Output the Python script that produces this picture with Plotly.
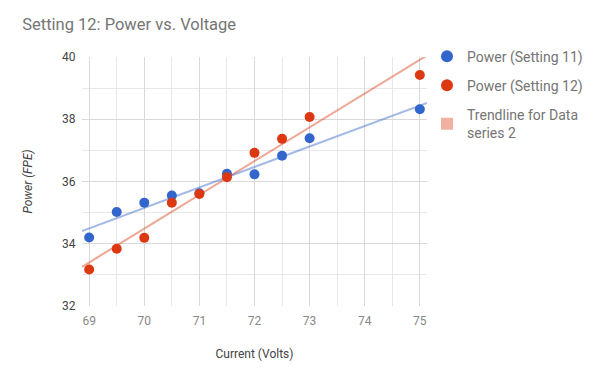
import numpy as np
import plotly.graph_objects as go

current = [69, 69.5, 70, 70.5, 71, 71.5, 72, 72.5, 73, 75]
power_s11 = [34.2, 35.02, 35.32, 35.55, 35.62, 36.25, 36.23, 36.83, 37.39, 38.32]
power_s12 = [33.17, 33.84, 34.19, 35.32, 35.6, 36.14, 36.92, 37.37, 38.07, 39.42]

x_range = [68.87, 75.13]
y_range = [32, 40]

blue = "#3366cc"
red = "#dc3912"

fig = go.Figure()

# trendlines (least-squares fits of the series)
tx = np.array(x_range)
for ys, col in [(power_s11, "rgba(51,102,204,0.45)"), (power_s12, "rgba(220,57,18,0.45)")]:
    m, b = np.polyfit(current, ys, 1)
    fig.add_trace(go.Scatter(x=tx, y=m * tx + b, mode="lines",
                             line=dict(color=col, width=2), showlegend=False,
                             hoverinfo="skip"))

fig.add_trace(go.Scatter(x=current, y=power_s11, mode="markers", name="Power (Setting 11)",
                         legendgroup="a", marker=dict(color=blue, size=10)))
fig.add_trace(go.Scatter(x=current, y=power_s12, mode="markers", name="Power (Setting 12)",
                         legendgroup="b", marker=dict(color=red, size=10)))
# legend entry for the trendline of series 2
fig.add_trace(go.Scatter(x=[None], y=[None], mode="markers",
                         name="Trendline for Data<br>series 2", legendgroup="c",
                         marker=dict(color="rgba(220,57,18,0.4)", size=10, symbol="square")))

fig.update_layout(
    width=600, height=370,
    margin=dict(l=82, r=173, t=57, b=64, autoexpand=False),
    paper_bgcolor="white", plot_bgcolor="white",
    font=dict(family="Roboto", size=12, color="#444"),
    title=dict(text="Setting 12: Power vs. Voltage", x=0.037, xanchor="left",
               y=0.935, yanchor="middle",
               font=dict(family="Roboto", size=16.5, color="#757575")),
    legend=dict(x=1.0, xanchor="left", y=1.066, yanchor="top",
                font=dict(family="Roboto", size=14, color="#757575"),
                itemsizing="constant", tracegroupgap=8),
    showlegend=True,
)

fig.update_xaxes(range=x_range, tickmode="array", tickvals=[69, 70, 71, 72, 73, 74, 75],
                 automargin=False,
                 showgrid=True, gridcolor="#d9d9d9", gridwidth=1,
                 minor=dict(tickmode="array", tickvals=[69.5, 70.5, 71.5, 72.5, 73.5, 74.5],
                            showgrid=True, gridcolor="#e8e8e8"),
                 zeroline=False, showline=False, ticks="outside", ticklen=4, tickcolor="rgba(0,0,0,0)",
                 tickfont=dict(color="#888888", size=12),
                 title=dict(text="Current (Volts)", font=dict(size=12, color="#444"), standoff=22))
fig.update_yaxes(range=y_range, tickmode="array", tickvals=[32, 34, 36, 38, 40],
                 automargin=False,
                 showgrid=True, gridcolor="#d9d9d9", gridwidth=1,
                 minor=dict(tickmode="array", tickvals=[33, 35, 37, 39],
                            showgrid=True, gridcolor="#e8e8e8"),
                 zeroline=False, showline=False, ticks="outside", ticklen=3, tickcolor="rgba(0,0,0,0)",
                 tickfont=dict(color="#444444", size=12),
                 title=dict(text="<i>Power (FPE)</i>", font=dict(size=12, color="#444"), standoff=26))

fig.write_html("out.html", config={"displayModeBar": False},
               post_script="document.body.style.margin='0px';")
